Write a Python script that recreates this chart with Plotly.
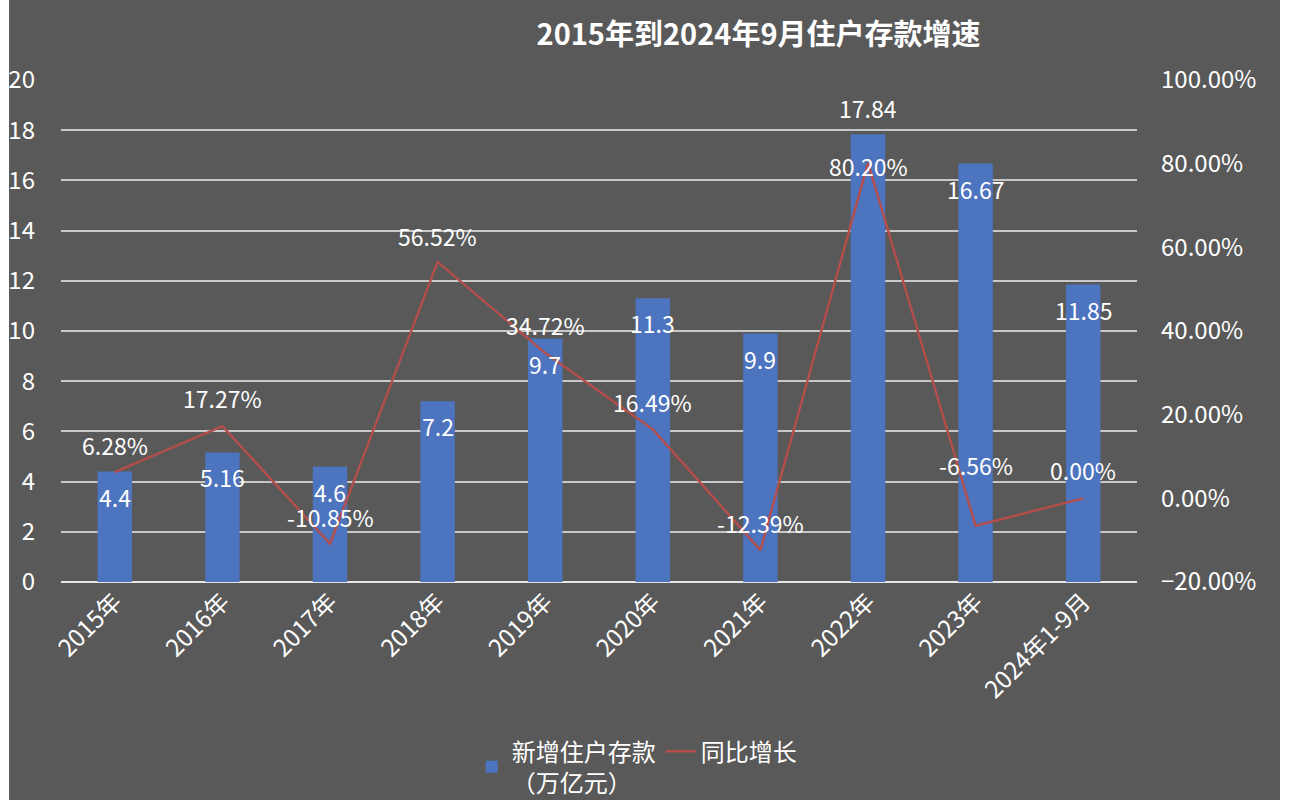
import plotly.graph_objects as go

# data
years = ["2015年", "2016年", "2017年", "2018年", "2019年", "2020年",
         "2021年", "2022年", "2023年", "2024年1-9月"]
new_deposits = [4.4, 5.16, 4.6, 7.2, 9.7, 11.3, 9.9, 17.84, 16.67, 11.85]
yoy_growth = [0.0628, 0.1727, -0.1085, 0.5652, 0.3472, 0.1649, -0.1239, 0.8020, -0.0656, 0.0]

left_ticks = list(range(0, 21, 2))
right_ticks = [-0.2, 0.0, 0.2, 0.4, 0.6, 0.8, 1.0]

BG = "#595959"
BAR = "#4d74bf"
LINE = "#b44e4b"
FONT = "Noto Sans CJK SC"

# label offsets in pixels (the Excel data-label placement)
bar_label_shift = [26 if v == max(new_deposits) else -25 for v in new_deposits]
line_label_shift = [27, 28, 27, 26, 28, 27, 27, -3, 61, 28]

fig = go.Figure()

fig.add_trace(go.Bar(
    x=years, y=new_deposits,
    name="新增住户存款<br>（万亿元）",
    marker=dict(color=BAR, line=dict(width=0)),
    width=0.32,
))

fig.add_trace(go.Scatter(
    x=years, y=yoy_growth,
    name="同比增长",
    yaxis="y2",
    mode="lines",
    line=dict(color=LINE, width=2.4),
    cliponaxis=False,
))

for cat, val, dy in zip(years, new_deposits, bar_label_shift):
    fig.add_annotation(x=cat, y=val, xref="x", yref="y", text=f"{val:g}",
                       showarrow=False, yshift=dy,
                       font=dict(size=23, color="white", family=FONT))

for cat, val, dy in zip(years, yoy_growth, line_label_shift):
    fig.add_annotation(x=cat, y=val, xref="x", yref="y2", text=f"{val * 100:.2f}%",
                       showarrow=False, yshift=dy,
                       font=dict(size=23, color="white", family=FONT))

fig.update_layout(
    width=1290, height=800,
    paper_bgcolor=BG, plot_bgcolor=BG,
    font=dict(family=FONT, color="white", size=23),
    margin=dict(l=61, r=153, t=80, b=218, autoexpand=False),
    title=dict(text="<b>2015年到2024年9月住户存款增速</b>",
               x=0.588, xanchor="center", y=0.956, yanchor="middle",
               font=dict(size=29, color="white", family=FONT)),
    bargap=0.68,
    xaxis=dict(tickangle=-45, showgrid=False, showline=False, ticks="",
               automargin=False, tickfont=dict(size=24, color="white")),
    yaxis=dict(range=[0, 20], tickvals=left_ticks, showgrid=True,
               gridcolor="#c8c8c8", gridwidth=1.5, zeroline=True,
               zerolinecolor="#e6e6e6", zerolinewidth=2,
               ticks="", ticklabelstandoff=25, automargin=False,
               tickfont=dict(size=24, color="white")),
    yaxis2=dict(range=[-0.2, 1.0], tickvals=right_ticks, tickformat=".2%",
                overlaying="y", side="right", showgrid=False, zeroline=False,
                ticks="", ticklabelstandoff=23, automargin=False,
                tickfont=dict(size=24, color="white")),
    legend=dict(orientation="h", x=0.535, xanchor="center", y=-0.293, yanchor="top",
                font=dict(size=24, color="white"), bgcolor="rgba(0,0,0,0)",
                traceorder="normal"),
    showlegend=True,
)

# white strips of the sheet on both sides of the chart panel
for x0, x1 in [(-0.07, -0.0483), (1.1329, 1.16)]:
    fig.add_shape(type="rect", xref="paper", yref="paper",
                  x0=x0, x1=x1, y0=-0.45, y1=1.17,
                  fillcolor="white", line=dict(width=0), layer="above")

fig.write_html("out.html", config={"displayModeBar": False},
               post_script="document.body.style.margin='0';")
